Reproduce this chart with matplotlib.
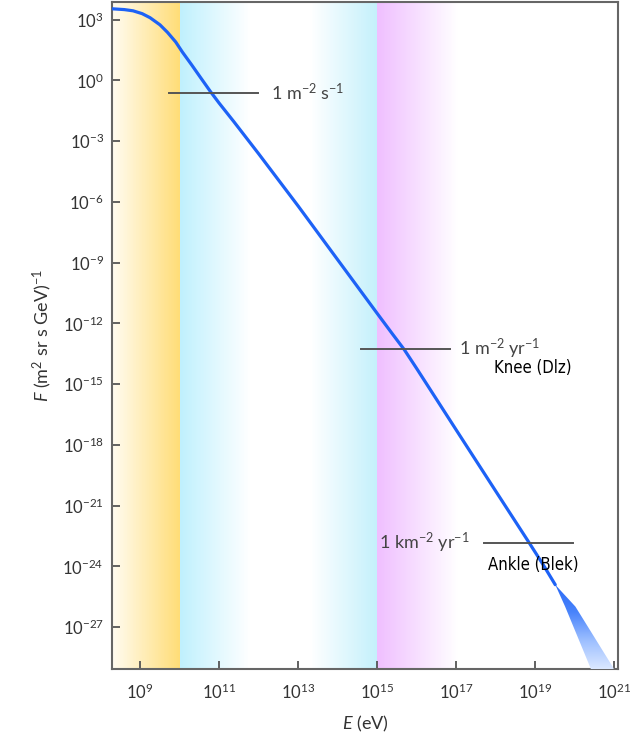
import numpy as np
import matplotlib.pyplot as plt
from matplotlib.colors import LinearSegmentedColormap

plt.rcParams['font.family'] = ['Lato', 'DejaVu Sans']
plt.rcParams['mathtext.fontset'] = 'custom'
plt.rcParams['mathtext.rm'] = 'Lato'
plt.rcParams['mathtext.it'] = 'Lato:italic'

# spectrum (log10 E in eV, log10 F)
log_E = [8.29, 8.6, 8.82, 9.05, 9.25, 9.5, 9.69, 9.9, 10.07, 10.3, 10.53, 10.78,
         11.0, 11.37, 12.0, 13.0, 14.0, 15.0, 15.4, 15.69, 16.0, 17.0, 18.0,
         18.85, 19.2, 19.51]
log_F = [3.54, 3.5, 3.44, 3.3, 3.1, 2.75, 2.38, 1.9, 1.4, 0.78, 0.14, -0.55,
         -1.12, -2.03, -3.62, -6.2, -8.85, -11.5, -12.55, -13.3, -14.22, -17.25,
         -20.27, -22.83, -23.9, -24.9]

# uncertainty band at the highest energies
band_log_F = [-24.9, -25.98, -29.0, -29.6]
band_log_E_lo = [19.51, 19.76, 20.40, 20.5]
band_log_E_hi = [19.51, 20.02, 20.98, 21.08]

# reference flux levels
ref_labels = ['1 m$^{-2}$ s$^{-1}$', '1 m$^{-2}$ yr$^{-1}$', '1 km$^{-2}$ yr$^{-1}$']
ref_log_F = [-0.6, -13.28, -22.83]
ref_line_lo = [9.74, 14.6, 17.7]
ref_line_hi = [11.98, 16.84, 19.97]
ref_text_x = [12.3, 17.07, 15.06]

feature_labels = ['Knee (Dlz)', 'Ankle (Blek)']
feature_pos = [(17.96, -14.22), (17.8, -23.91)]

# shaded energy ranges: (from, to, colour at start, colour at end)
ranges = [
    (8.29, 10.0, '#fffbf0', '#ffdd78'),
    (10.0, 11.8, '#bff0fd', '#ffffff'),
    (13.3, 15.0, '#ffffff', '#c4f0fb'),
    (15.0, 17.07, '#efbfff', '#ffffff'),
]

fig = plt.figure(figsize=(6.3, 7.51), dpi=100)
ax = fig.add_axes([0.178, 0.109, 0.803, 0.889])
ax.set_xscale('log')
ax.set_yscale('log')

for a, b, c0, c1 in ranges:
    cm = LinearSegmentedColormap.from_list('g', [c0, c1])
    edges = np.logspace(a, b, 90)
    for i in range(len(edges) - 1):
        ax.axvspan(edges[i], edges[i + 1], color=cm(i / (len(edges) - 2)), lw=0, zorder=0)

E = 10.0 ** np.array(log_E)
F = 10.0 ** np.array(log_F)
line_color = '#1d62f6'
ax.plot(E, F, color=line_color, lw=2.3, zorder=4, solid_capstyle='round',
        solid_joinstyle='round')

xmin, xmax = 10 ** 8.29, 10 ** 21.1
ymin, ymax = 10 ** -29.07, 10 ** 3.9
ax.set_xlim(xmin, xmax)
ax.set_ylim(ymin, ymax)

band = ax.fill_betweenx(10.0 ** np.array(band_log_F), 10.0 ** np.array(band_log_E_lo),
                        10.0 ** np.array(band_log_E_hi), color='none', lw=0)
top = ax.transAxes.inverted().transform(ax.transData.transform((E[-1], F[-1])))[1]
band_cmap = LinearSegmentedColormap.from_list('band', ['#dbe8ff', '#9dbfff', '#4a84fb', '#2a6af7'])
grad = np.linspace(1, 0, 256).reshape(-1, 1)
im = ax.imshow(grad, extent=[0, 1, 0, top], transform=ax.transAxes, cmap=band_cmap,
               aspect='auto', zorder=3)
im.set_clip_path(band.get_paths()[0], transform=ax.transData)
ax.set_xlim(xmin, xmax)
ax.set_ylim(ymin, ymax)

for lab, f, lo, hi, tx in zip(ref_labels, ref_log_F, ref_line_lo, ref_line_hi, ref_text_x):
    ax.plot([10 ** lo, 10 ** hi], [10 ** f, 10 ** f], color='#555555', lw=1.4, zorder=5)
    ax.text(10 ** tx, 10 ** f, lab, fontsize=13, color='#444444', va='center', ha='left', zorder=6)

for lab, (x, y) in zip(feature_labels, feature_pos):
    ax.text(10 ** x, 10 ** y, lab, fontsize=12, color='black', va='center', ha='left',
            family='DejaVu Sans', fontstretch='condensed', zorder=6)

ax.set_xticks([10.0 ** k for k in range(9, 22, 2)])
ax.set_yticks([10.0 ** k for k in range(3, -28, -3)])
ax.minorticks_off()
ax.tick_params(direction='in', length=6, width=1.3, color='#555555', labelsize=12,
               labelcolor='#333333')
ax.tick_params(axis='x', pad=10)
ax.tick_params(axis='y', pad=6)
for s in ax.spines.values():
    s.set_color('#666666')
    s.set_linewidth(1.5)

ax.set_xlabel('$E$ (eV)', fontsize=13, color='#333333', labelpad=8)
ax.set_ylabel('$F$ (m$^2$ sr s GeV)$^{-1}$', fontsize=13, color='#333333', labelpad=6)

fig.savefig('out.png', dpi=100)
